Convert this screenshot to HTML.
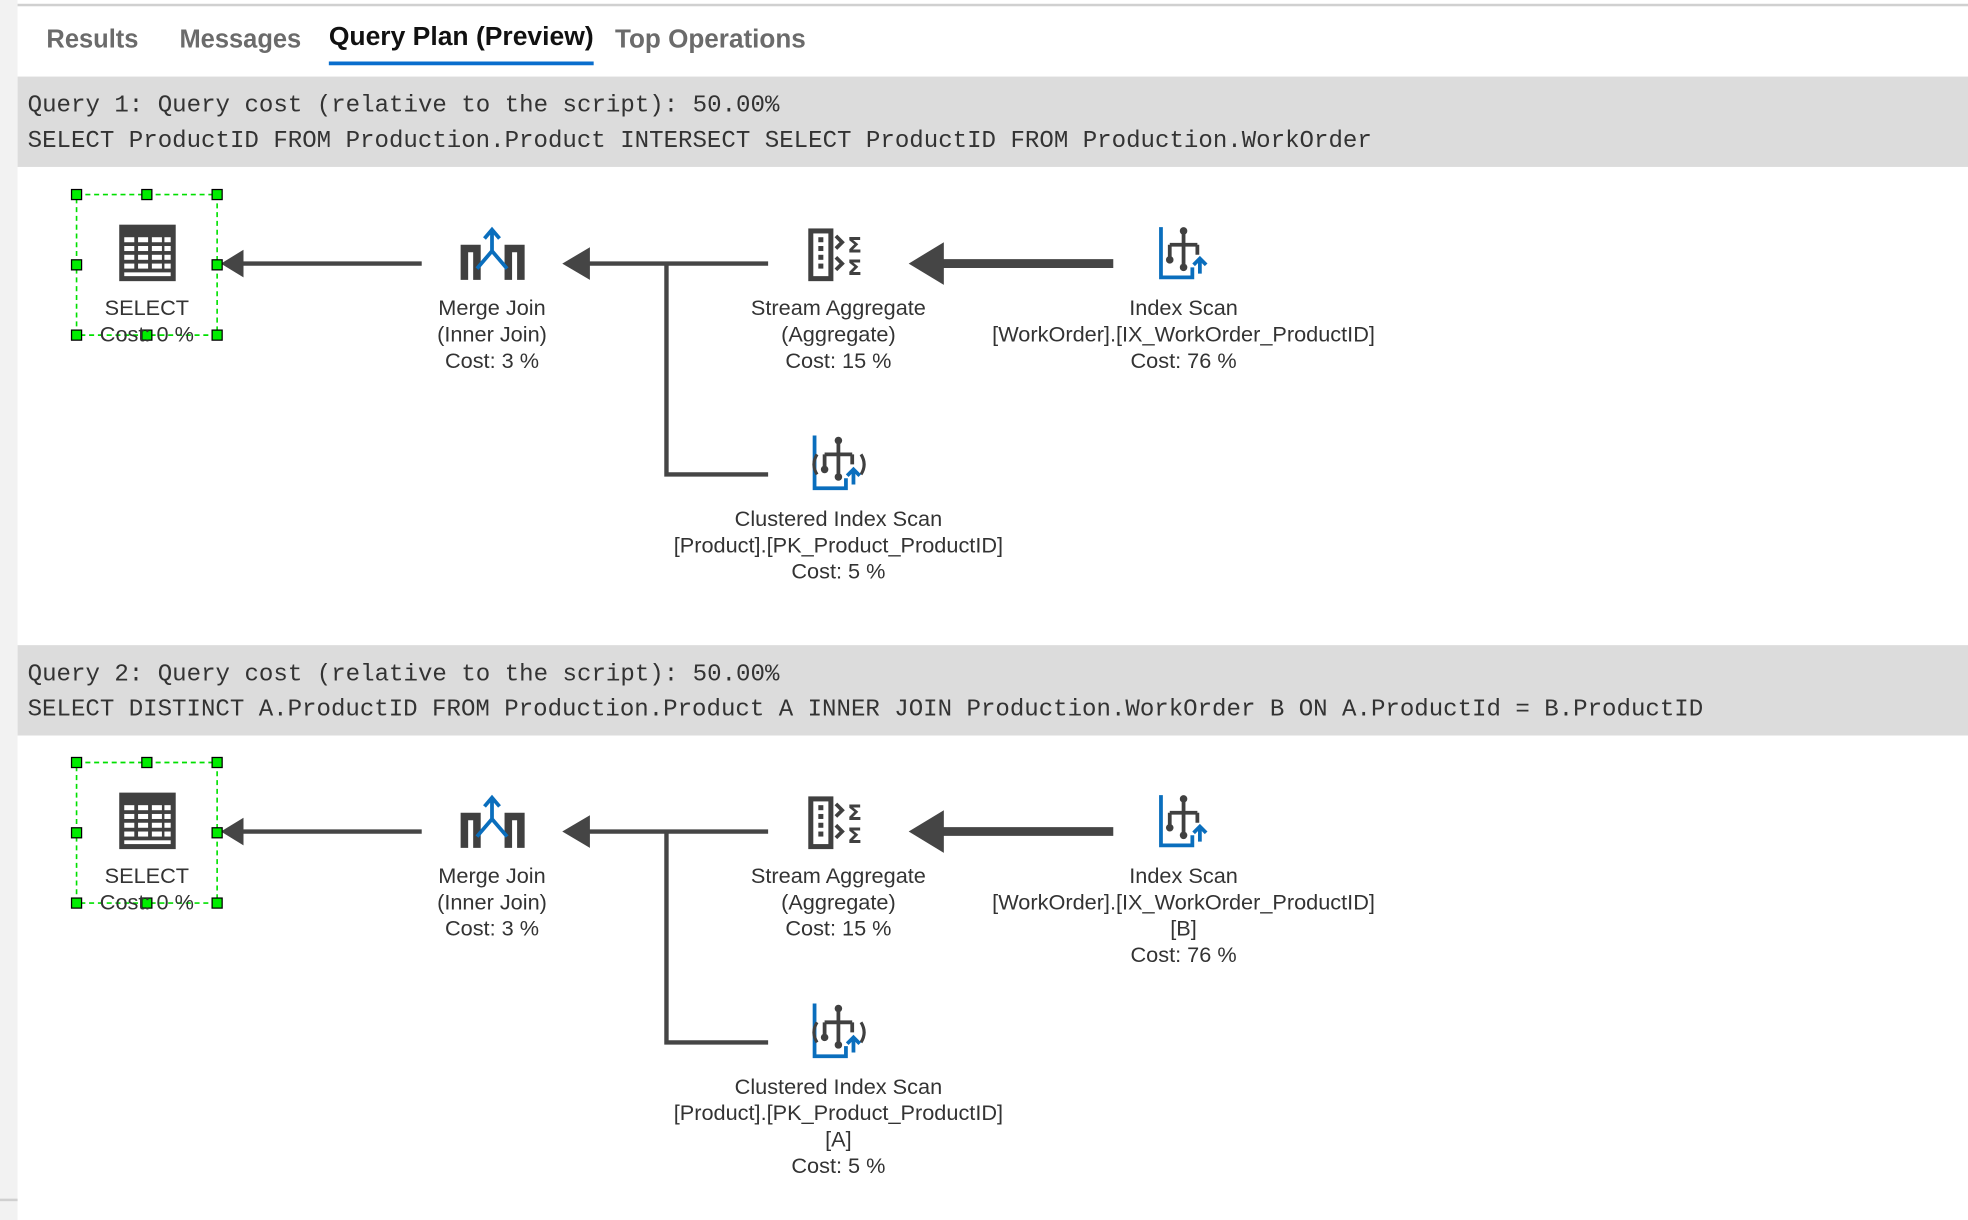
<!DOCTYPE html>
<html><head><meta charset="utf-8"><style>
html,body{margin:0;padding:0;background:#fff;width:1968px;height:1220px;overflow:hidden}
svg{display:block}
.t{font-family:"Liberation Sans",sans-serif;font-size:17.3px;fill:#333;text-anchor:middle}
.m{font-family:"Liberation Mono",monospace;font-size:19.5px;fill:#333}
.tab{font-family:"Liberation Sans",sans-serif;font-size:20.3px;font-weight:bold;fill:#6b6b6b}
</style></head><body>
<svg width="1968" height="1220" viewBox="0 0 1568 972" preserveAspectRatio="none" xmlns="http://www.w3.org/2000/svg">
<defs>
<g id="sel">
 <rect x="95" y="179" width="45" height="45" fill="#404040"/>
 <g fill="#fff">
  <rect x="99" y="189" width="8" height="4"/><rect x="110" y="189" width="8" height="4"/><rect x="121" y="189" width="8" height="4"/><rect x="131" y="189" width="5" height="4"/>
  <rect x="99" y="196" width="8" height="4"/><rect x="110" y="196" width="8" height="4"/><rect x="121" y="196" width="8" height="4"/><rect x="131" y="196" width="5" height="4"/>
  <rect x="99" y="203" width="8" height="4"/><rect x="110" y="203" width="8" height="4"/><rect x="121" y="203" width="8" height="4"/><rect x="131" y="203" width="5" height="4"/>
  <rect x="99" y="210" width="8" height="4"/><rect x="110" y="210" width="8" height="4"/><rect x="121" y="210" width="8" height="4"/><rect x="131" y="210" width="5" height="4"/>
  <rect x="99" y="217" width="37" height="3"/>
 </g>
</g>
<g id="mj">
 <path d="M370 223V198h10v25M405 223V198h10v25" fill="none" stroke="#404040" stroke-width="6"/>
 <path d="M392 184v16M392 200l-12 14M392 200l12 14M386 190l6-7 6 7" fill="none" stroke="#0a6ebd" stroke-width="3"/>
</g>
<g id="sa">
 <rect x="646" y="184" width="16" height="38" fill="none" stroke="#404040" stroke-width="4"/>
 <g fill="#404040"><rect x="652" y="189" width="4" height="4"/><rect x="652" y="196" width="4" height="4"/><rect x="652" y="203" width="4" height="4"/><rect x="652" y="210" width="4" height="4"/></g>
 <path d="M666 188l5 5-5 5M666 205l5 5-5 5" fill="none" stroke="#404040" stroke-width="3"/>
 <text x="681" y="201" font-family="DejaVu Sans" font-size="17" font-weight="bold" fill="#404040" text-anchor="middle">Σ</text>
 <text x="681" y="219" font-family="DejaVu Sans" font-size="17" font-weight="bold" fill="#404040" text-anchor="middle">Σ</text>
</g>
<g id="is">
 <path d="M925 181v40h25v-8" fill="none" stroke="#0a6ebd" stroke-width="3"/>
 <path d="M943 183v30M932 195h22M932 195v12M954 195v8" fill="none" stroke="#404040" stroke-width="3"/>
 <circle cx="943" cy="184" r="3" fill="#404040"/><circle cx="932" cy="207" r="3" fill="#404040"/><circle cx="943" cy="213" r="3" fill="#404040"/>
 <path d="M956 218v-12M951 211l5-5 5 5" fill="none" stroke="#0a6ebd" stroke-width="3"/>
</g>
<g id="cis">
 <path d="M649 347v42h25v-8" fill="none" stroke="#0a6ebd" stroke-width="3"/>
 <path d="M668 350v30M657 362h22M657 362v12M679 362v8" fill="none" stroke="#404040" stroke-width="3"/>
 <circle cx="668" cy="351" r="3" fill="#404040"/><circle cx="657" cy="374" r="3" fill="#404040"/><circle cx="668" cy="380" r="3" fill="#404040"/>
 <path d="M651 362q-5 8 0 16M686 362q5 8 0 16" fill="none" stroke="#404040" stroke-width="2.5"/>
 <path d="M680 386v-12M675 379l5-5 5 5" fill="none" stroke="#0a6ebd" stroke-width="3"/>
</g>
<g id="selbox">
 <rect x="61" y="155" width="112" height="112" fill="none" stroke="#00e000" stroke-width="1.3" stroke-dasharray="4,3"/>
 <g fill="#00ee00" stroke="#000" stroke-width="1">
  <rect x="57" y="151" width="8" height="8"/><rect x="113" y="151" width="8" height="8"/><rect x="169" y="151" width="8" height="8"/>
  <rect x="57" y="207" width="8" height="8"/><rect x="169" y="207" width="8" height="8"/>
  <rect x="57" y="263" width="8" height="8"/><rect x="113" y="263" width="8" height="8"/><rect x="169" y="263" width="8" height="8"/>
 </g>
</g>
<g id="edges">
 <line x1="336" y1="210" x2="190" y2="210" stroke="#454545" stroke-width="3.5"/>
 <path d="M176 210l18-11v22z" fill="#454545"/>
 <line x1="612" y1="210" x2="462" y2="210" stroke="#454545" stroke-width="3.5"/>
 <path d="M448 210l22-13v26z" fill="#454545"/>
 <path d="M531 210V378h81" fill="none" stroke="#454545" stroke-width="3.5"/>
 <line x1="887" y1="210" x2="745" y2="210" stroke="#454545" stroke-width="7"/>
 <path d="M724 210l28-17v34z" fill="#454545"/>
</g>
</defs>
<rect x="0" y="0" width="14" height="972" fill="#f2f2f2"/>
<rect x="14" y="3" width="1554" height="2" fill="#d0d0d0"/>
<text class="tab" x="37" y="38">Results</text>
<text class="tab" x="143" y="38">Messages</text>
<text class="tab" x="262" y="36" style="fill:#111" textLength="211" lengthAdjust="spacingAndGlyphs">Query Plan (Preview)</text>
<rect x="262" y="49" width="211" height="3" fill="#0a6ecd"/>
<text class="tab" x="490" y="38" textLength="152" lengthAdjust="spacingAndGlyphs">Top Operations</text>

<rect x="14" y="61" width="1554" height="72" fill="#dcdcdc"/>
<text class="m" x="22" y="89" textLength="599" lengthAdjust="spacingAndGlyphs">Query 1: Query cost (relative to the script): 50.00%</text>
<text class="m" x="22" y="117" textLength="1071" lengthAdjust="spacingAndGlyphs">SELECT ProductID FROM Production.Product INTERSECT SELECT ProductID FROM Production.WorkOrder</text>

<g>
 <use href="#edges"/><use href="#sel"/><use href="#selbox"/><use href="#mj"/><use href="#sa"/><use href="#is"/><use href="#cis"/>
 <text class="t" x="117" y="251">SELECT</text><text class="t" x="117" y="272">Cost: 0 %</text>
 <text class="t" x="392" y="251">Merge Join</text><text class="t" x="392" y="272">(Inner Join)</text><text class="t" x="392" y="293">Cost: 3 %</text>
 <text class="t" x="668" y="251">Stream Aggregate</text><text class="t" x="668" y="272">(Aggregate)</text><text class="t" x="668" y="293">Cost: 15 %</text>
 <text class="t" x="943" y="251">Index Scan</text><text class="t" x="943" y="272">[WorkOrder].[IX_WorkOrder_ProductID]</text><text class="t" x="943" y="293">Cost: 76 %</text>
 <text class="t" x="668" y="419">Clustered Index Scan</text><text class="t" x="668" y="440">[Product].[PK_Product_ProductID]</text><text class="t" x="668" y="461">Cost: 5 %</text>
</g>

<rect x="14" y="514" width="1554" height="72" fill="#dcdcdc"/>
<text class="m" x="22" y="542" textLength="599" lengthAdjust="spacingAndGlyphs">Query 2: Query cost (relative to the script): 50.00%</text>
<text class="m" x="22" y="570" textLength="1335" lengthAdjust="spacingAndGlyphs">SELECT DISTINCT A.ProductID FROM Production.Product A INNER JOIN Production.WorkOrder B ON A.ProductId = B.ProductID</text>

<g transform="translate(0,452.5)">
 <use href="#edges"/><use href="#sel"/><use href="#selbox"/><use href="#mj"/><use href="#sa"/><use href="#is"/><use href="#cis"/>
 <text class="t" x="117" y="251">SELECT</text><text class="t" x="117" y="272">Cost: 0 %</text>
 <text class="t" x="392" y="251">Merge Join</text><text class="t" x="392" y="272">(Inner Join)</text><text class="t" x="392" y="293">Cost: 3 %</text>
 <text class="t" x="668" y="251">Stream Aggregate</text><text class="t" x="668" y="272">(Aggregate)</text><text class="t" x="668" y="293">Cost: 15 %</text>
 <text class="t" x="943" y="251">Index Scan</text><text class="t" x="943" y="272">[WorkOrder].[IX_WorkOrder_ProductID]</text><text class="t" x="943" y="293">[B]</text><text class="t" x="943" y="314">Cost: 76 %</text>
 <text class="t" x="668" y="419">Clustered Index Scan</text><text class="t" x="668" y="440">[Product].[PK_Product_ProductID]</text><text class="t" x="668" y="461">[A]</text><text class="t" x="668" y="482">Cost: 5 %</text>
</g>
<rect x="0" y="955" width="14" height="2" fill="#d0d0d0"/>
</svg>
</body></html>
